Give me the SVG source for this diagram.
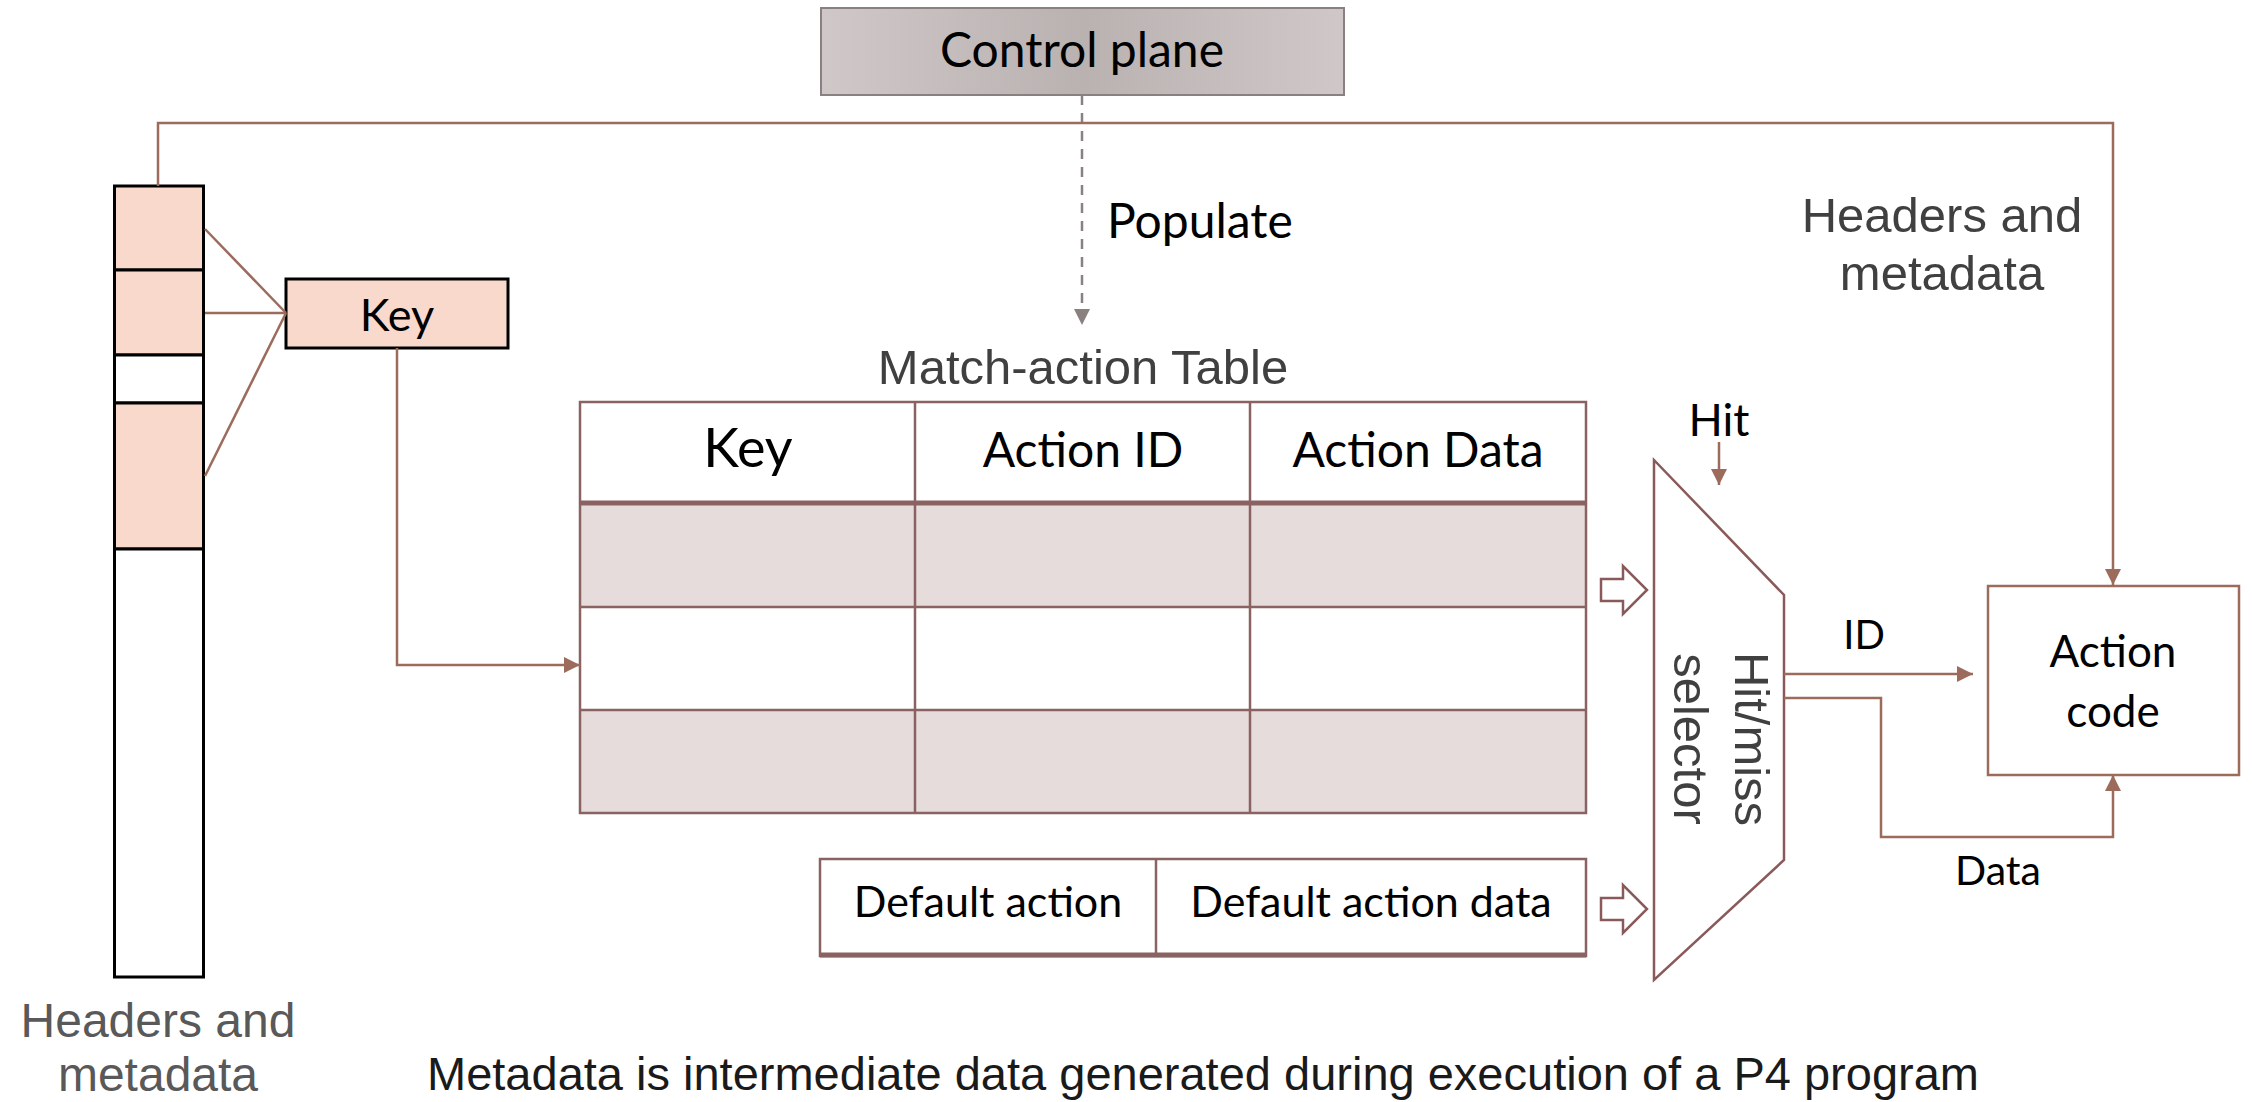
<svg xmlns="http://www.w3.org/2000/svg" width="2252" height="1102" viewBox="0 0 2252 1102">
  <defs>
    <linearGradient id="cpFill" x1="0" y1="0" x2="1" y2="0">
      <stop offset="0" stop-color="#d0c8c8"/>
      <stop offset="0.5" stop-color="#bab1b1"/>
      <stop offset="1" stop-color="#d0c8c8"/>
    </linearGradient>
    <marker id="arrow" markerUnits="userSpaceOnUse" markerWidth="18" markerHeight="16" refX="16" refY="8" orient="auto">
      <path d="M0,0 L16,8 L0,16 Z" fill="#9c6b5b"/>
    </marker>
    <marker id="arrowGray" markerUnits="userSpaceOnUse" markerWidth="18" markerHeight="16" refX="16" refY="8" orient="auto">
      <path d="M0,0 L16,8 L0,16 Z" fill="#8a8080"/>
    </marker>
  </defs>
  <style>
    .cal { font-family: Lato, "Open Sans", sans-serif; fill: #000; }
    .ari { font-family: "Liberation Sans", Arial, sans-serif; fill: #404040; }
    .conn { fill: none; stroke: #9c6b5b; stroke-width: 2.5; }
    .tbl { stroke: #8b6262; stroke-width: 2.5; }
    .seg { stroke: #000; stroke-width: 3; }
    .pink { fill: #f8d9cc; }
    .grey { fill: #e6dcdc; }
    .blk { fill: #fff; stroke: #8a5a5a; stroke-width: 2.5; }
  </style>

  <!-- packet headers / metadata column -->
  <g id="headers">
    <rect x="114.5" y="186" width="89" height="84" class="pink seg"/>
    <rect x="114.5" y="270" width="89" height="85" class="pink seg"/>
    <rect x="114.5" y="355" width="89" height="48" fill="#fff" class="seg"/>
    <rect x="114.5" y="403" width="89" height="146" class="pink seg"/>
    <rect x="114.5" y="549" width="89" height="428" fill="#fff" class="seg"/>
    <text class="ari" x="158" y="1037" font-size="48" text-anchor="middle" style="fill:#595959">Headers and</text>
    <text class="ari" x="158" y="1091" font-size="48" text-anchor="middle" style="fill:#595959">metadata</text>
  </g>

  <!-- extracted key -->
  <g id="key">
    <rect x="286" y="279" width="222" height="69" class="pink seg"/>
    <text class="cal" x="397" y="331" font-size="45" text-anchor="middle">Key</text>
  </g>

  <!-- control plane -->
  <g id="control-plane">
    <rect x="821" y="8" width="523" height="87" fill="url(#cpFill)" stroke="#8a8080" stroke-width="2"/>
    <text class="cal" x="1082" y="67" font-size="48" text-anchor="middle">Control plane</text>
  </g>

  <!-- match-action table -->
  <g id="match-action-table">
    <text class="ari" x="1083" y="384" font-size="49" text-anchor="middle">Match-action Table</text>
    <rect x="580" y="402" width="1006" height="101" fill="#fff"/>
    <rect x="580" y="503" width="1006" height="104" class="grey"/>
    <rect x="580" y="607" width="1006" height="103" fill="#fff"/>
    <rect x="580" y="710" width="1006" height="103" class="grey"/>
    <rect x="580" y="402" width="1006" height="411" fill="none" class="tbl"/>
    <line x1="580" y1="503" x2="1586" y2="503" stroke="#8b6262" stroke-width="5"/>
    <line x1="580" y1="607" x2="1586" y2="607" class="tbl"/>
    <line x1="580" y1="710" x2="1586" y2="710" class="tbl"/>
    <line x1="915" y1="402" x2="915" y2="813" class="tbl"/>
    <line x1="1250" y1="402" x2="1250" y2="813" class="tbl"/>
    <text class="cal" x="748" y="467" font-size="54" text-anchor="middle">Key</text>
    <text class="cal" x="1083" y="467" font-size="48" text-anchor="middle">Action ID</text>
    <text class="cal" x="1418" y="467" font-size="48" text-anchor="middle">Action Data</text>
  </g>

  <!-- default entry -->
  <g id="default-entry">
    <rect x="820" y="859" width="766" height="97" fill="#fff" class="tbl"/>
    <line x1="820" y1="955" x2="1586" y2="955" stroke="#8b6262" stroke-width="5"/>
    <line x1="1156" y1="859" x2="1156" y2="956" class="tbl"/>
    <text class="cal" x="988" y="917" font-size="43" text-anchor="middle">Default action</text>
    <text class="cal" x="1371" y="917" font-size="43" text-anchor="middle">Default action data</text>
  </g>

  <!-- hit/miss selector -->
  <g id="selector">
    <polygon points="1654,460 1784,595 1784,860 1654,980" class="blk"/>
    <g transform="translate(1735,739) rotate(90)">
      <text class="ari" x="0" y="0" font-size="49" text-anchor="middle">Hit/miss</text>
      <text class="ari" x="0" y="61" font-size="49" text-anchor="middle">selector</text>
    </g>
    <text class="cal" x="1719" y="436" font-size="45" text-anchor="middle">Hit</text>
  </g>

  <!-- action code -->
  <g id="action-code">
    <rect x="1988" y="586" width="251" height="189" fill="#fff" stroke="#9c6b5b" stroke-width="2.5"/>
    <text class="cal" x="2113" y="667" font-size="44" text-anchor="middle">Action</text>
    <text class="cal" x="2113" y="727" font-size="44" text-anchor="middle">code</text>
  </g>

  <!-- connectors -->
  <g id="connectors">
    <path d="M1082,95 V325" fill="none" stroke="#8a8080" stroke-width="2.5" stroke-dasharray="10 8" marker-end="url(#arrowGray)"/>
    <text class="cal" x="1107" y="238" font-size="48">Populate</text>

    <path d="M158,186 V123 H2113 V585" class="conn" marker-end="url(#arrow)"/>
    <text class="ari" x="1942" y="232" font-size="49" text-anchor="middle">Headers and</text>
    <text class="ari" x="1942" y="290" font-size="49" text-anchor="middle">metadata</text>

    <line x1="205" y1="229" x2="286" y2="313" class="conn"/>
    <line x1="205" y1="313" x2="286" y2="313" class="conn"/>
    <line x1="205" y1="476" x2="286" y2="313" class="conn"/>

    <path d="M397,348 V665 H580" class="conn" marker-end="url(#arrow)"/>

    <path d="M1601,579 H1623 V566 L1647,590 L1623,614 V601 H1601 Z" class="blk"/>
    <path d="M1601,898 H1623 V885 L1647,909 L1623,933 V920 H1601 Z" class="blk"/>

    <path d="M1719,442 V485" class="conn" marker-end="url(#arrow)"/>

    <path d="M1784,674 H1973" class="conn" marker-end="url(#arrow)"/>
    <text class="cal" x="1864" y="649" font-size="40" text-anchor="middle">ID</text>

    <path d="M1784,698 H1881 V837 H2113 V775" class="conn" marker-end="url(#arrow)"/>
    <text class="cal" x="1998" y="885" font-size="41" text-anchor="middle">Data</text>
  </g>

  <text class="ari" x="1203" y="1090" font-size="47" text-anchor="middle" style="fill:#1a1a1a">Metadata is intermediate data generated during execution of a P4 program</text>
</svg>
